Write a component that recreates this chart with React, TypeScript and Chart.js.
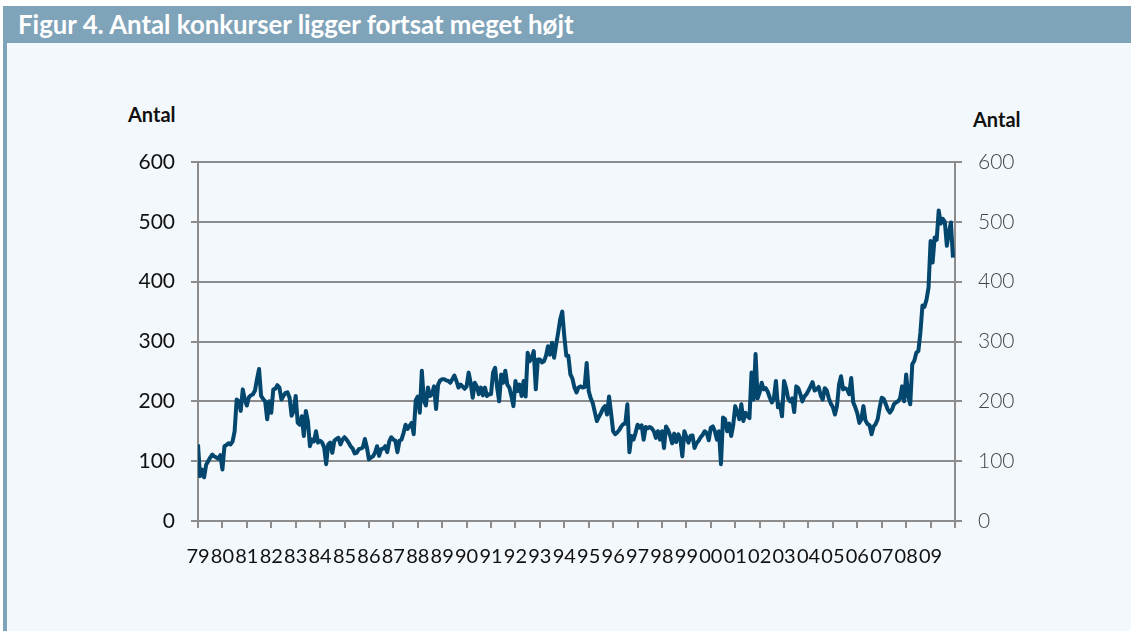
import React, { useEffect, useRef } from "react";
import { Chart, registerables } from "chart.js";

Chart.register(...registerables);

const title = "Figur 4. Antal konkurser ligger fortsat meget højt";
const axisTitle = "Antal";
const yearLabels = ["79","80","81","82","83","84","85","86","87","88","89","90","91","92","93","94","95","96","97","98","99","00","01","02","03","04","05","06","07","08","09"];
const yTicks = [0, 100, 200, 300, 400, 500, 600];

// Monthly number of bankruptcies, Jan 1979 – Dec 2009
const v1979_1983 = [
  128, 75, 86, 73, 94, 100, 106, 111, 108, 106, 104, 110,
  86, 125, 127, 130, 128, 133, 150, 203, 200, 184, 220, 203,
  193, 207, 210, 212, 218, 237, 254, 209, 204, 200, 170, 200,
  181, 220, 221, 227, 223, 203, 209, 214, 215, 206, 176, 184,
  209, 164, 161, 175, 142, 184, 167, 125, 136, 133, 150, 131,
];
const v1984_1988 = [
  134, 131, 123, 95, 128, 131, 114, 134, 137, 139, 128, 136,
  140, 136, 131, 125, 121, 113, 114, 120, 121, 123, 137, 123,
  103, 106, 108, 114, 125, 109, 120, 121, 125, 115, 133, 140,
  136, 134, 115, 134, 136, 147, 161, 154, 159, 164, 145, 202,
  208, 181, 251, 201, 193, 223, 209, 212, 225, 187, 228, 235,
];
const v1989_1993 = [
  237, 237, 235, 234, 231, 237, 243, 234, 223, 228, 225, 221,
  225, 248, 231, 206, 231, 225, 212, 223, 210, 223, 209, 212,
  212, 248, 256, 223, 200, 245, 231, 251, 228, 223, 209, 192,
  234, 217, 228, 209, 234, 208, 281, 267, 273, 284, 220, 270,
  270, 265, 267, 276, 292, 278, 298, 273, 295, 315, 337, 350,
];
const v1994_1998 = [
  309, 276, 276, 245, 238, 223, 215, 223, 225, 223, 224, 264,
  217, 205, 197, 182, 167, 174, 180, 188, 192, 178, 208, 180,
  150, 145, 148, 152, 158, 162, 163, 195, 115, 142, 136, 147,
  161, 156, 160, 136, 157, 155, 157, 155, 150, 139, 150, 136,
  150, 122, 158, 152, 143, 130, 146, 132, 145, 138, 108, 150,
];
const v1999_2003 = [
  140, 131, 142, 143, 122, 130, 134, 140, 144, 150, 147, 135,
  156, 158, 150, 136, 150, 95, 173, 170, 150, 163, 142, 160,
  192, 182, 170, 195, 167, 181, 175, 172, 248, 203, 279, 205,
  215, 231, 220, 222, 216, 206, 198, 205, 234, 190, 195, 175,
  234, 222, 205, 200, 205, 182, 225, 222, 212, 200, 208, 212,
];
const v2004_2009 = [
  218, 225, 232, 218, 220, 224, 210, 203, 222, 218, 205, 196,
  190, 178, 192, 228, 242, 220, 222, 220, 212, 239, 198, 190,
  180, 164, 170, 192, 168, 162, 160, 145, 158, 162, 170, 190,
  206, 204, 195, 186, 181, 186, 195, 198, 200, 205, 225, 200,
  245, 209, 195, 262, 268, 281, 284, 315, 360, 358, 370, 390,
  468, 432, 474, 470, 519, 497, 505, 500, 460, 482, 499, 440,
];

const monthly = [...v1979_1983, ...v1984_1988, ...v1989_1993, ...v1994_1998, ...v1999_2003, ...v2004_2009];

const FONT = "Lato, 'Open Sans', sans-serif";
const GRID = "#8c8c8c";

export default function App() {
  const ref = useRef<HTMLCanvasElement | null>(null);

  useEffect(() => {
    document.body.style.margin = "0";
    const canvas = ref.current;
    if (!canvas) return;
    const totalMonths = yearLabels.length * 12;
    const chart = new Chart(canvas, {
      type: "line",
      data: {
        datasets: [
          {
            data: monthly.map((v, i) => ({ x: i, y: v })),
            borderColor: "#03466e",
            borderWidth: 4,
            pointRadius: 0,
            tension: 0,
            borderJoinStyle: "round",
            yAxisID: "y",
          },
        ],
      },
      options: {
        responsive: false,
        animation: false,
        events: [],
        layout: { padding: { top: 162, left: 0, right: 0, bottom: 0 } },
        plugins: { legend: { display: false }, tooltip: { enabled: false } },
        scales: {
          x: {
            type: "linear",
            min: 0,
            max: totalMonths,
            afterFit: (s: any) => { s.height = 110; },
            afterBuildTicks: (s: any) => {
              const t = yearLabels.map((_, i) => ({ value: i * 12 }));
              t.push({ value: totalMonths });
              s.ticks = t;
            },
            ticks: {
              autoSkip: false,
              maxRotation: 0,
              minRotation: 0,
              padding: 17,
              color: "#111",
              font: { family: FONT, size: 20 },
              callback: (v: any) => yearLabels[Math.round(Number(v) / 12)] ?? "",
            },
            grid: { drawOnChartArea: false, drawTicks: true, tickLength: 7, color: GRID, lineWidth: 2 },
            border: { color: GRID, width: 2 },
          },
          y: {
            position: "left",
            min: 0,
            max: 600,
            afterFit: (s: any) => { s.width = 198; },
            afterBuildTicks: (s: any) => { s.ticks = yTicks.map((v) => ({ value: v })); },
            ticks: { padding: 16, color: "#111", font: { family: FONT, size: 21 } },
            grid: { drawOnChartArea: true, drawTicks: true, tickLength: 7, color: GRID, lineWidth: 2 },
            border: { color: GRID, width: 2 },
          },
          y2: {
            position: "right",
            min: 0,
            max: 600,
            afterFit: (s: any) => { s.width = 1131 - 955; },
            afterBuildTicks: (s: any) => { s.ticks = yTicks.map((v) => ({ value: v })); },
            ticks: { padding: 16, color: "#444", font: { family: FONT, size: 21, weight: "300" } },
            grid: { drawOnChartArea: false, drawTicks: true, tickLength: 7, color: GRID, lineWidth: 2 },
            border: { color: GRID, width: 2 },
          },
        },
      },
    } as any);
    return () => chart.destroy();
  }, []);

  return (
    <div style={{ position: "relative", width: 1131, height: 631, background: "#fff", overflow: "hidden" }}>
      <div style={{ position: "absolute", left: 7, top: 43, right: 0, bottom: 0, background: "#f3f8fc" }} />
      <div style={{ position: "absolute", left: 3, top: 6, width: 4, bottom: 0, background: "#7fa3b9" }} />
      <div
        style={{
          position: "absolute", left: 3, top: 6, right: 0, height: 37, background: "#7fa3b9",
          color: "#fff", fontFamily: FONT, fontWeight: 700, fontSize: 25.8, lineHeight: "36px",
          paddingLeft: 15, boxSizing: "border-box", whiteSpace: "nowrap",
        }}
      >
        {title}
      </div>
      <div style={{ position: "absolute", left: 128, top: 102, fontFamily: FONT, fontWeight: 700, fontSize: 20, color: "#111" }}>{axisTitle}</div>
      <div style={{ position: "absolute", left: 973, top: 107, fontFamily: FONT, fontWeight: 700, fontSize: 20, color: "#111" }}>{axisTitle}</div>
      <canvas ref={ref} width={1131} height={631} style={{ position: "absolute", left: 0, top: 0 }} />
    </div>
  );
}
